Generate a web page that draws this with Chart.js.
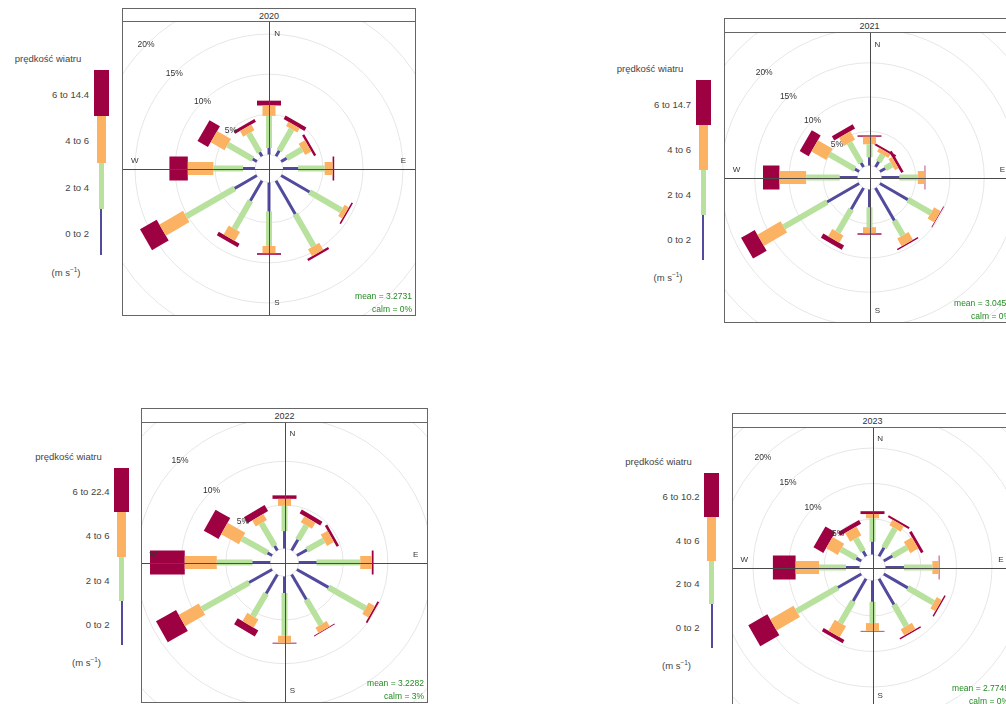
<!DOCTYPE html>
<html>
<head>
    <meta charset="UTF-8">
    <title>Róże wiatrów 2020–2023</title>
    <script src="https://cdn.jsdelivr.net/npm/chart.js"></script>
    <style>
        body { margin: 0; width: 1006px; height: 704px; overflow: hidden; position: relative; background: #fff;
               font-family: "Liberation Sans", Arial, sans-serif; color: #333; }
        .frame { position: absolute; border: 1px solid #666; background: #fff; }
        .strip { border-bottom: 1px solid #666; text-align: center; font-size: 9px; color: #333; }
        .strip span { position: relative; top: 1px; }
        canvas { display: block; }
        .txt { position: absolute; white-space: nowrap; font-size: 9.5px; color: #444; }
        .txt sup { font-size: 6.5px; }
        .key { position: absolute; }
    </style>
</head>
<body>

<script>
    const directions = [0, 30, 60, 90, 120, 150, 180, 210, 240, 270, 300, 330];
    const years = ['2020', '2021', '2022', '2023'];
    const speedLabels = ['0 to 2', '2 to 4', '4 to 6'];
    const topSpeedLabels = ['6 to 14.4', '6 to 14.7', '6 to 22.4', '6 to 10.2'];
    const meanSpeed = ['3.2731', '3.0459', '3.2282', '2.7749'];
    const calmPct = ['0%', '0%', '3%', '0%'];
    const ringLabels = [5, 10, 15, 20];

    // frequency (%) per direction, one array per speed class
    const f2020_0to2 = [0.8, 0.8, 0.8, 1.9, 4.1, 4.8, 3.6, 2.9, 3.2, 1.5, 0.6, 0.6];
    const f2020_2to4 = [4.0, 3.1, 2.2, 3.3, 4.6, 4.6, 4.3, 4.0, 7.0, 3.7, 3.6, 2.7];
    const f2020_4to6 = [1.3, 0.6, 0.9, 1.0, 0.6, 1.0, 0.9, 1.3, 3.4, 3.2, 2.0, 0.8];
    const f2020_6up  = [0.6, 0.5, 0.3, 0.2, 0.2, 0.3, 0.2, 0.5, 2.4, 2.3, 1.5, 0.4];

    const f2021_0to2 = [1.2, 0.9, 0.9, 2.6, 4.7, 5.5, 2.6, 3.6, 5.4, 2.6, 0.7, 0.7];
    const f2021_2to4 = [1.9, 1.2, 1.1, 2.7, 3.9, 2.5, 2.9, 3.9, 7.3, 4.9, 4.3, 3.4];
    const f2021_4to6 = [1.1, 0.6, 0.6, 1.0, 1.1, 1.3, 0.9, 1.2, 3.9, 3.9, 2.5, 1.4];
    const f2021_6up  = [0.2, 0.3, 0.4, 0.1, 0.1, 0.2, 0.2, 0.7, 2.3, 2.4, 1.5, 0.7];

    const f2022_0to2 = [2.0, 1.4, 1.3, 2.0, 4.1, 3.3, 1.9, 2.5, 3.0, 2.0, 0.6, 0.6];
    const f2022_2to4 = [2.9, 1.9, 2.2, 4.9, 4.8, 3.3, 4.9, 3.0, 6.1, 4.0, 3.3, 3.0];
    const f2022_4to6 = [0.8, 0.8, 0.9, 1.3, 0.8, 0.7, 0.8, 1.1, 2.6, 3.6, 2.3, 0.8];
    const f2022_6up  = [0.4, 0.5, 0.3, 0.2, 0.2, 0.1, 0.1, 0.8, 2.6, 3.9, 1.9, 0.8];

    const f2023_0to2 = [1.8, 1.4, 1.4, 2.6, 3.9, 4.2, 3.0, 3.6, 3.8, 1.9, 0.8, 0.8];
    const f2023_2to4 = [3.3, 3.1, 2.4, 4.0, 4.2, 3.5, 3.0, 3.6, 6.7, 3.8, 2.5, 2.1];
    const f2023_4to6 = [0.6, 0.9, 1.3, 0.9, 0.8, 1.0, 1.1, 1.8, 3.8, 3.3, 1.9, 1.4];
    const f2023_6up  = [0.4, 0.3, 0.4, 0.1, 0.2, 0.2, 0.1, 0.5, 3.1, 3.2, 1.6, 0.6];

    const yearBins = [
        [f2020_0to2, f2020_2to4, f2020_4to6, f2020_6up],
        [f2021_0to2, f2021_2to4, f2021_4to6, f2021_6up],
        [f2022_0to2, f2022_2to4, f2022_4to6, f2022_6up],
        [f2023_0to2, f2023_2to4, f2023_4to6, f2023_6up]
    ];

    const binColours = ['#514a9d', '#b8e19e', '#fbb363', '#9e0142'];
    const paddleWidths = [3, 6, 13, 24];
    const keyWidths = [2, 5, 9, 15];

    // placement of each year's panel and colour key (pixels), axis limit and hole (%)
    const layout = [
        { left: 123, frameTop: 8,   plotTop: 22,  w: 292, h: 293, lim: 18.25, hole: 1.75, barX: 101,   barTop: 70,  segH: 46.25 },
        { left: 725, frameTop: 18,  plotTop: 33,  w: 289, h: 289, lim: 21.1,  hole: 1.75, barX: 703,   barTop: 80,  segH: 45 },
        { left: 142, frameTop: 408, plotTop: 423, w: 285, h: 279, lim: 16.0,  hole: 1.6,  barX: 121.5, barTop: 468, segH: 44.25 },
        { left: 733, frameTop: 413, plotTop: 428, w: 279, h: 279, lim: 19.65, hole: 1.83, barX: 711.5, barTop: 473, segH: 43.75 }
    ];

    const FONT = "'Liberation Sans', Arial, sans-serif";

    // circles, axis cross and labels of the wind rose
    const roseGrid = {
        id: 'roseGrid',
        beforeDatasetsDraw(chart, args, opts) {
            const { ctx, chartArea: a, scales: { x, y } } = chart;
            const cx = x.getPixelForValue(0), cy = y.getPixelForValue(0);
            ctx.save();
            ctx.beginPath();
            ctx.rect(a.left, a.top, a.width, a.height);
            ctx.clip();
            ctx.strokeStyle = '#e6e6e6';
            ctx.lineWidth = 1;
            for (let k = 0; k <= 6; k++) {
                const r = opts.hole + k * 5;
                const rx = x.getPixelForValue(r) - cx;
                const ry = cy - y.getPixelForValue(r);
                ctx.beginPath();
                ctx.ellipse(cx, cy, rx, ry, 0, 0, 2 * Math.PI);
                ctx.stroke();
            }
            ctx.restore();
        },
        afterDatasetsDraw(chart, args, opts) {
            const { ctx, chartArea: a, scales: { x, y } } = chart;
            const cx = x.getPixelForValue(0), cy = y.getPixelForValue(0);
            const lim = x.max;
            ctx.save();
            ctx.strokeStyle = '#4a4a4a';
            ctx.lineWidth = 1;
            ctx.beginPath();
            ctx.moveTo(Math.round(cx) + 0.5, a.top);
            ctx.lineTo(Math.round(cx) + 0.5, a.bottom);
            ctx.moveTo(a.left, Math.round(cy) + 0.5);
            ctx.lineTo(a.right, Math.round(cy) + 0.5);
            ctx.stroke();

            ctx.fillStyle = '#333';
            ctx.textAlign = 'center';
            ctx.textBaseline = 'middle';
            ctx.font = '8px ' + FONT;
            const along = lim * 0.92, side = lim * 0.055;
            ctx.fillText('N', x.getPixelForValue(side), y.getPixelForValue(along));
            ctx.fillText('E', x.getPixelForValue(along), y.getPixelForValue(side));
            ctx.fillText('S', x.getPixelForValue(side), y.getPixelForValue(-along));
            ctx.fillText('W', x.getPixelForValue(-along), y.getPixelForValue(side));

            ctx.font = '8.5px ' + FONT;
            ringLabels.forEach(v => {
                const d = (opts.hole + v) * Math.SQRT1_2;
                const px = x.getPixelForValue(-d), py = y.getPixelForValue(d);
                if (px < a.left + 8 || py < a.top + 4) return;
                ctx.fillText(v + '%', px, py);
            });

            ctx.fillStyle = '#228b22';
            ctx.textAlign = 'right';
            ctx.textBaseline = 'alphabetic';
            ctx.font = '8.5px ' + FONT;
            ctx.fillText('mean = ' + opts.mean, a.right - 3, a.bottom - 16);
            ctx.fillText('calm = ' + opts.calm, a.right - 3, a.bottom - 3);
            ctx.restore();
        }
    };

    function addText(html, px, py, align) {
        const el = document.createElement('div');
        el.className = 'txt';
        el.innerHTML = html;
        const tx = align === 'right' ? '-100%' : '-50%';
        el.style.left = px + 'px';
        el.style.top = py + 'px';
        el.style.transform = `translate(${tx}, -50%)`;
        document.body.appendChild(el);
    }

    function buildKey(p, topLabel) {
        const labels = speedLabels.concat([topLabel]);
        addText('prędkość wiatru', p.barX - 53, p.barTop - 12, 'center');
        for (let b = 0; b < 4; b++) {
            const top = p.barTop + (3 - b) * p.segH;
            const bar = document.createElement('div');
            bar.className = 'key';
            bar.style.left = (p.barX - keyWidths[b] / 2) + 'px';
            bar.style.top = top + 'px';
            bar.style.width = keyWidths[b] + 'px';
            bar.style.height = p.segH + 'px';
            bar.style.background = binColours[b];
            document.body.appendChild(bar);
            addText(labels[b], p.barX - 12, top + p.segH / 2 + 1, 'right');
        }
        addText('(m s<sup>−1</sup>)', p.barX - 35, p.barTop + 4 * p.segH + 17, 'center');
    }

    function buildRose(i) {
        const p = layout[i];
        const frame = document.createElement('div');
        frame.className = 'frame';
        frame.style.left = (p.left - 1) + 'px';
        frame.style.top = p.frameTop + 'px';
        frame.style.width = p.w + 'px';
        const strip = document.createElement('div');
        strip.className = 'strip';
        strip.style.height = (p.plotTop - p.frameTop - 2) + 'px';
        strip.style.lineHeight = (p.plotTop - p.frameTop - 2) + 'px';
        strip.innerHTML = '<span>' + years[i] + '</span>';
        frame.appendChild(strip);
        const canvas = document.createElement('canvas');
        canvas.width = p.w;
        canvas.height = p.h;
        frame.appendChild(canvas);
        document.body.appendChild(frame);

        // one paddle segment per direction and speed class, stacked outwards
        const datasets = [];
        directions.forEach((dir, j) => {
            const th = dir * Math.PI / 180;
            let r1 = p.hole;
            yearBins[i].forEach((vals, b) => {
                const r2 = r1 + vals[j];
                datasets.push({
                    data: [
                        { x: r1 * Math.sin(th), y: r1 * Math.cos(th) },
                        { x: r2 * Math.sin(th), y: r2 * Math.cos(th) }
                    ],
                    showLine: true,
                    borderColor: binColours[b],
                    backgroundColor: binColours[b],
                    borderWidth: paddleWidths[b],
                    borderCapStyle: 'butt',
                    borderJoinStyle: 'bevel',
                    pointRadius: 0,
                    // tiny tension keeps Chart.js off its pixel-merging fast path for very short segments
                    tension: 0.001
                });
                r1 = r2;
            });
        });

        new Chart(canvas, {
            type: 'scatter',
            data: { datasets: datasets },
            options: {
                responsive: false,
                animation: false,
                events: [],
                layout: { padding: 0 },
                plugins: {
                    legend: { display: false },
                    tooltip: { enabled: false },
                    roseGrid: { hole: p.hole, mean: meanSpeed[i], calm: calmPct[i] }
                },
                scales: {
                    x: { type: 'linear', min: -p.lim, max: p.lim, display: false },
                    y: { type: 'linear', min: -p.lim, max: p.lim, display: false }
                }
            },
            plugins: [roseGrid]
        });

        buildKey(p, topSpeedLabels[i]);
    }

    years.forEach((yr, i) => buildRose(i));
</script>
</body>
</html>
